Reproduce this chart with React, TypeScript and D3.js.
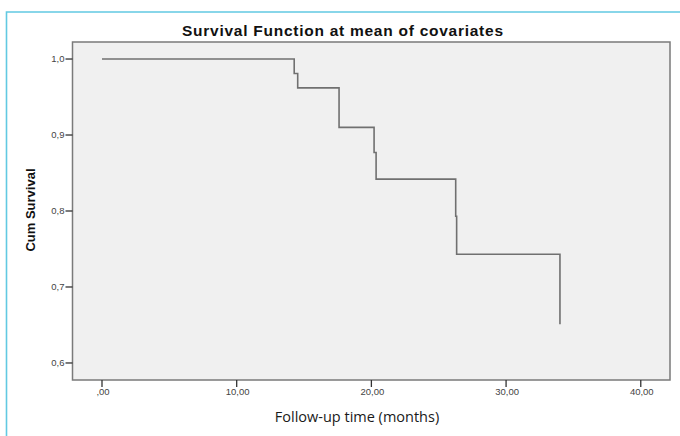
import React, { useEffect, useRef } from "react";
import * as d3 from "d3";

// Survival step data (months, cum survival)
const times = [0, 14.27, 14.53, 17.6, 20.2, 20.35, 26.26, 26.33, 34.0];
const survival = [1.0, 0.981, 0.962, 0.91, 0.877, 0.842, 0.793, 0.743, 0.651];

const xTicks = [0, 10, 20, 30, 40];
const xTickLabels = [",00", "10,00", "20,00", "30,00", "40,00"];
const yTicks = [0.6, 0.7, 0.8, 0.9, 1.0];
const yTickLabels = ["0,6", "0,7", "0,8", "0,9", "1,0"];

const App = () => {
  const chartRef = useRef<SVGSVGElement | null>(null);

  useEffect(() => {
    const width = 680;
    const height = 436;
    const frame = { left: 72.5, right: 670, top: 42, bottom: 380 };

    const x = d3.scaleLinear().domain([-2.19, 42.17]).range([frame.left, frame.right]);
    const y = d3.scaleLinear().domain([0.5776, 1.0224]).range([frame.bottom, frame.top]);

    const svg = d3.select(chartRef.current);
    svg.selectAll("*").remove();
    svg.attr("width", width).attr("height", height).style("background", "#ffffff");

    // cyan page border (top and left)
    svg.append("path")
      .attr("d", `M680,12 H6.5 V436`)
      .attr("fill", "none")
      .attr("stroke", "#62c9e2")
      .attr("stroke-width", 1.6);

    svg.append("text")
      .attr("x", 182)
      .attr("y", 36)
      .attr("textLength", 321)
      .attr("lengthAdjust", "spacing")
      .style("font", "bold 15.5px 'Liberation Sans', Arial, sans-serif")
      .attr("fill", "#111")
      .text("Survival Function at mean of covariates");

    // plot background + frame
    svg.append("rect")
      .attr("x", frame.left)
      .attr("y", frame.top)
      .attr("width", frame.right - frame.left)
      .attr("height", frame.bottom - frame.top)
      .attr("fill", "#f0f0f0")
      .attr("stroke", "#7a7a7a")
      .attr("stroke-width", 1.5);

    // y axis ticks
    const yg = svg.append("g");
    yTicks.forEach((t, i) => {
      yg.append("line")
        .attr("x1", frame.left - 7).attr("x2", frame.left)
        .attr("y1", y(t)).attr("y2", y(t))
        .attr("stroke", "#333").attr("stroke-width", 1.3);
      yg.append("text")
        .attr("x", frame.left - 8)
        .attr("y", y(t))
        .attr("dy", "0.35em")
        .attr("text-anchor", "end")
        .style("font", "9.5px 'Liberation Sans', Arial, sans-serif")
        .attr("fill", "#444")
        .text(yTickLabels[i]);
    });

    // x axis ticks
    const xg = svg.append("g");
    xTicks.forEach((t, i) => {
      xg.append("line")
        .attr("x1", x(t)).attr("x2", x(t))
        .attr("y1", frame.bottom).attr("y2", frame.bottom + 7)
        .attr("stroke", "#333").attr("stroke-width", 1.3);
      xg.append("text")
        .attr("x", x(t) + 1)
        .attr("y", frame.bottom + 15)
        .attr("text-anchor", "middle")
        .style("font", "9.5px 'Liberation Sans', Arial, sans-serif")
        .attr("fill", "#444")
        .text(xTickLabels[i]);
    });

    // axis titles
    svg.append("text")
      .attr("transform", `translate(35,210) rotate(-90)`)
      .attr("text-anchor", "middle")
      .style("font", "bold 13px 'Liberation Sans', Arial, sans-serif")
      .attr("fill", "#111")
      .text("Cum Survival");

    svg.append("text")
      .attr("x", 357)
      .attr("y", 422)
      .attr("text-anchor", "middle")
      .style("font", "14.5px 'Open Sans', sans-serif")
      .attr("fill", "#1a1a1a")
      .text("Follow-up time (months)");

    // survival curve
    const pts: [number, number][] = times.map((t, i) => [t, survival[i]]);
    const line = d3.line<[number, number]>()
      .x(d => x(d[0]))
      .y(d => y(d[1]))
      .curve(d3.curveStepAfter);

    svg.append("path")
      .datum(pts)
      .attr("d", line)
      .attr("fill", "none")
      .attr("stroke", "#707070")
      .attr("stroke-width", 1.6);
  }, []);

  return (
    <svg
      ref={chartRef}
      style={{ position: "absolute", left: 0, top: 0, display: "block" }}
    />
  );
};

export default App;
